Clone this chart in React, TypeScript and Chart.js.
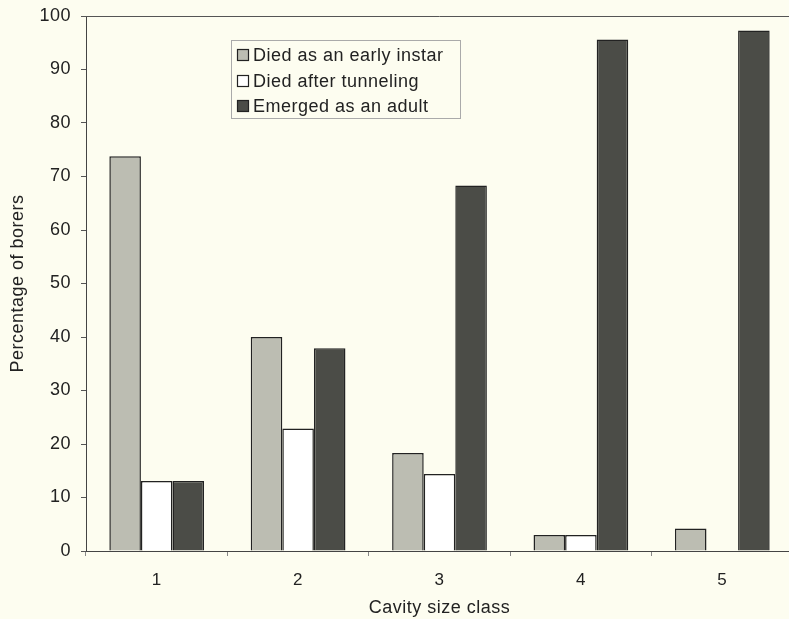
import React, { useEffect, useRef } from "react";
import { Chart, registerables } from "chart.js";

Chart.register(...registerables);

const categories = ["1", "2", "3", "4", "5"];
const diedEarly = [73.8, 40, 18.3, 3, 4.2];
const diedTunneling = [13.1, 22.9, 14.4, 3, 0];
const emerged = [13.1, 37.9, 68.3, 95.6, 97.3];
const seriesLabels = ["Died as an early instar", "Died after tunneling", "Emerged as an adult"];
const yTicks = [0, 10, 20, 30, 40, 50, 60, 70, 80, 90, 100];

const BG = "#fdfdf0";
const FONT = "'Liberation Sans', Arial, Helvetica, sans-serif";
const SPACING = "0.5px";

const framePlugin = {
  id: "frame",
  beforeInit(chart: any) {
    chart.ctx.letterSpacing = SPACING;
  },
  beforeDraw(chart: any) {
    const { ctx, width, height } = chart;
    ctx.letterSpacing = SPACING;
    ctx.save();
    ctx.fillStyle = BG;
    ctx.fillRect(0, 0, width, height);
    ctx.restore();
  },
  afterDraw(chart: any) {
    const { ctx, chartArea } = chart;
    ctx.save();
    ctx.strokeStyle = "#555";
    ctx.lineWidth = 1;
    ctx.beginPath();
    ctx.moveTo(chartArea.left, chartArea.top + 0.5);
    ctx.lineTo(chartArea.right, chartArea.top + 0.5);
    ctx.stroke();

    // legend box
    const bx = 231, by = 40, bw = 229, bh = 78;
    ctx.strokeStyle = "#aaa";
    ctx.strokeRect(bx + 0.5, by + 0.5, bw, bh);
    const rows = [55, 81, 106];
    ctx.font = `18px ${FONT}`;
    ctx.textBaseline = "middle";
    ctx.textAlign = "left";
    chart.data.datasets.forEach((ds: any, i: number) => {
      const y = rows[i];
      ctx.fillStyle = ds.backgroundColor;
      ctx.fillRect(237, y - 5.5, 11, 11);
      ctx.strokeStyle = "#222";
      ctx.lineWidth = 1.2;
      ctx.strokeRect(237.5, y - 5.5, 11, 11);
      ctx.fillStyle = "#222";
      ctx.fillText(ds.label, 253, y + 1);
    });
    ctx.restore();
  },
};

export default function App() {
  const ref = useRef<HTMLCanvasElement>(null);
  useEffect(() => {
    if (!ref.current) return;
    const common = { borderColor: "#222", borderWidth: 1.5, categoryPercentage: 0.67, barPercentage: 1 };
    const chart = new Chart(ref.current, {
      type: "bar",
      data: {
        labels: categories,
        datasets: [
          { label: seriesLabels[0], data: diedEarly, backgroundColor: "#bcbdb2", ...common },
          { label: seriesLabels[1], data: diedTunneling, backgroundColor: "#ffffff", ...common },
          { label: seriesLabels[2], data: emerged, backgroundColor: "#4b4c47", ...common },
        ],
      },
      options: {
        responsive: false,
        animation: false,
        layout: { padding: { top: 16, right: 7, left: 0, bottom: 0 } },
        plugins: { legend: { display: false }, tooltip: { enabled: false } },
        scales: {
          x: {
            grid: { display: true, drawOnChartArea: false, offset: true, tickLength: 5, color: "#888" },
            border: { display: true, color: "#444", width: 1 },
            ticks: { color: "#222", font: { family: FONT, size: 17 }, padding: 14 },
            title: { display: true, text: "Cavity size class", color: "#222", font: { family: FONT, size: 18 }, padding: { top: 0, bottom: 0 } },
            afterFit: (s: any) => { s.height = 68; s.paddingLeft = 0; s.paddingRight = 0; },
          },
          y: {
            min: 0,
            max: 100,
            afterBuildTicks: (s: any) => { s.ticks = yTicks.map((v) => ({ value: v })); },
            grid: { display: true, drawOnChartArea: false, tickLength: 5, color: "#555" },
            border: { display: true, color: "#444", width: 1 },
            ticks: { color: "#222", font: { family: FONT, size: 18 }, padding: 10 },
            title: { display: true, text: "Percentage of borers", color: "#222", font: { family: FONT, size: 18 }, padding: { top: 7, bottom: 0 } },
            afterFit: (s: any) => { s.width = 86; s.paddingTop = 0; s.paddingBottom = 0; },
          },
        },
      },
      plugins: [framePlugin],
    });
    return () => chart.destroy();
  }, []);
  return (
    <div style={{ position: "absolute", left: 0, top: 0, width: 789, height: 619, overflow: "hidden", background: BG }}>
      <canvas ref={ref} width={800} height={619} style={{ display: "block" }} />
    </div>
  );
}
